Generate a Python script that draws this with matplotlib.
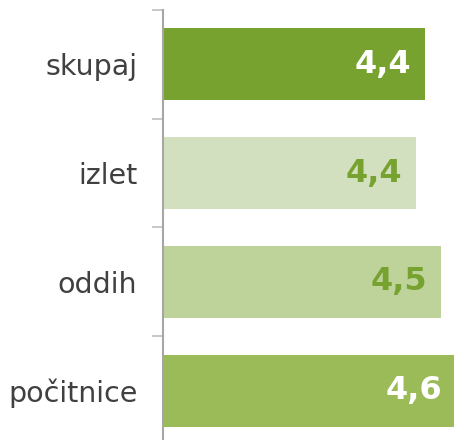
import numpy as np
import matplotlib.pyplot as plt

categories = ["skupaj", "izlet", "oddih", "počitnice"]
values = [4.43, 4.37, 4.53, 4.62]
bar_colors = ["#77A22F", "#D3E0BF", "#BDD39A", "#9BBB59"]
label_colors = ["white", "#77A22F", "#77A22F", "white"]

fig = plt.figure(figsize=(4.54, 4.40), dpi=100)
ax = fig.add_axes([163 / 454, -5 / 440, 291 / 454, 435 / 440])

y = np.arange(len(categories))
lo = 2.79
ax.barh(y, np.array(values) - lo, left=lo, height=0.66, color=bar_colors)

# value labels sit inside the bar end
for yi, v, c in zip(y, values, label_colors):
    ax.annotate(f"{v:.1f}".replace(".", ","), xy=(v, yi), xytext=(-10, 0),
                textcoords="offset points", ha="right", va="center",
                fontsize=23, fontweight="bold", color=c,
                annotation_clip=False)

ax.set_xlim(lo, 4.61)
ax.set_ylim(len(categories) - 0.5, -0.5)

ax.set_yticks(y)
ax.set_yticklabels(categories, fontsize=20.5, color="#404040")
ax.tick_params(axis="y", which="major", length=0, pad=18.5)
ax.set_yticks(np.arange(-0.5, len(categories)), minor=True)
ax.tick_params(axis="y", which="minor", length=8, width=1.2, color="#BFBFBF")
ax.set_xticks([])

for s in ["top", "right", "bottom"]:
    ax.spines[s].set_visible(False)
ax.spines["left"].set_color("#A6A6A6")
ax.spines["left"].set_linewidth(1.5)

fig.savefig("out.png", dpi=100)
